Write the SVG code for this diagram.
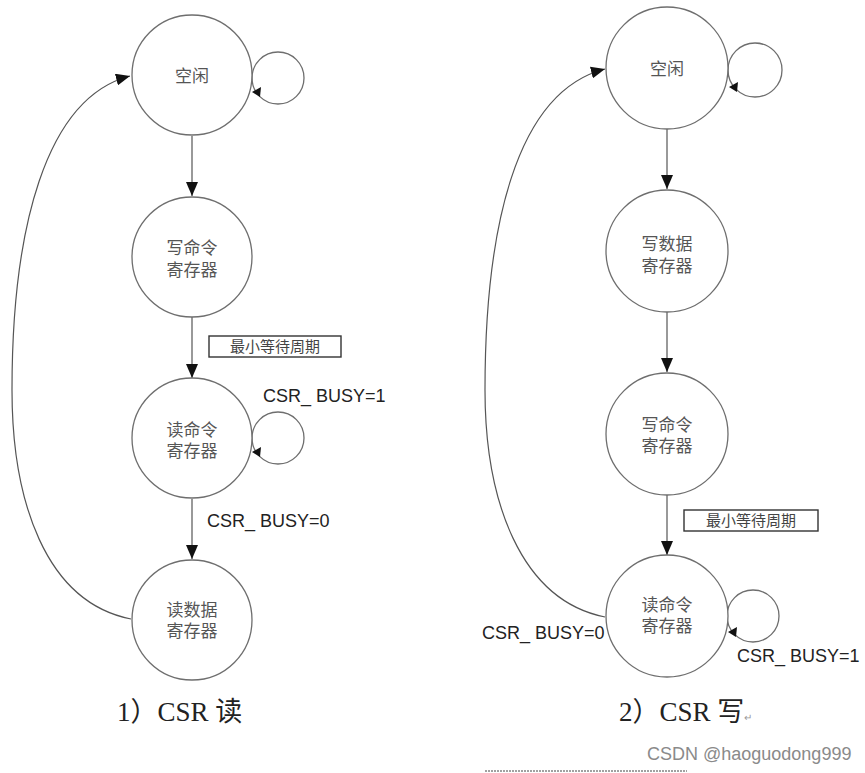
<svg xmlns="http://www.w3.org/2000/svg" width="865" height="773" viewBox="0 0 865 773">
<defs>
<style>
.node{fill:#fff;stroke:#6e6e6e;stroke-width:1.3}
.loop{fill:none;stroke:#6e6e6e;stroke-width:1.3}
.edge{fill:none;stroke:#555;stroke-width:1.2}
.nt{font-family:"Liberation Serif","Noto Sans CJK SC",serif;font-size:17px;fill:#555;text-anchor:middle}
.lbl{font-family:"Liberation Sans","Noto Sans CJK SC",sans-serif;font-size:18px;fill:#222}
.box{fill:#fff;stroke:#333;stroke-width:1.4}
.boxt{font-family:"Liberation Serif","Noto Sans CJK SC",serif;font-size:15px;fill:#444;text-anchor:middle}
.title{font-family:"Liberation Serif","Noto Sans CJK SC",serif;font-size:27px;fill:#222}
.ah{fill:#111}
</style>
<marker id="arr" viewBox="0 0 14 12" refX="14" refY="6" markerWidth="14" markerHeight="12" markerUnits="userSpaceOnUse" orient="auto">
<path d="M0,0 L14,6 L0,12 Z" fill="#111"/>
</marker>
</defs>
<rect width="865" height="773" fill="#fff"/>

<g id="connectors">
<path class="edge" d="M192,136 L192,196" marker-end="url(#arr)"/>
<path class="edge" d="M192,317 L192,378" marker-end="url(#arr)"/>
<path class="edge" d="M192,499 L192,559" marker-end="url(#arr)"/>
<path class="edge" d="M131,619 C45,602 12,500 12,390 C12,230 45,98 130,76" marker-end="url(#arr)"/>
<circle class="loop" cx="278" cy="78" r="26"/>
<polygon class="ah" points="252,92 261,87 260,97"/>
<circle class="loop" cx="278" cy="438" r="26"/>
<polygon class="ah" points="252,452 261,447 260,457"/>

<path class="edge" d="M667,129 L667,189" marker-end="url(#arr)"/>
<path class="edge" d="M667,312 L667,372" marker-end="url(#arr)"/>
<path class="edge" d="M667,495 L667,555" marker-end="url(#arr)"/>
<path class="edge" d="M605,617 C520,600 485,500 485,390 C485,230 515,92 605,69" marker-end="url(#arr)"/>
<circle class="loop" cx="755" cy="70" r="27"/>
<polygon class="ah" points="729,87 738,82 737,92"/>
<circle class="loop" cx="753" cy="616" r="26"/>
<polygon class="ah" points="728,632 737,627 736,637"/>
</g>

<g id="n1-idle">
<circle class="node" cx="192" cy="75" r="60"/>
<text class="nt" x="192" y="82">空闲</text>
</g>
<g id="n1-wcmd">
<circle class="node" cx="192" cy="257" r="60"/>
<text class="nt" x="192" y="254">写命令</text>
<text class="nt" x="192" y="276">寄存器</text>
</g>
<g id="n1-rcmd">
<circle class="node" cx="192" cy="438" r="60"/>
<text class="nt" x="192" y="436">读命令</text>
<text class="nt" x="192" y="457">寄存器</text>
</g>
<g id="n1-rdata">
<circle class="node" cx="192" cy="620" r="60"/>
<text class="nt" x="192" y="616">读数据</text>
<text class="nt" x="192" y="637">寄存器</text>
</g>

<g id="lbl1-wait">
<rect class="box" x="209" y="336" width="132" height="21"/>
<text class="boxt" x="275" y="352">最小等待周期</text>
</g>
<text class="lbl" x="263" y="402">CSR_ BUSY=1</text>
<text class="lbl" x="207" y="527">CSR_ BUSY=0</text>
<text class="title" x="117" y="721">1）CSR 读</text>

<g id="n2-idle">
<circle class="node" cx="667" cy="68" r="61"/>
<text class="nt" x="667" y="75">空闲</text>
</g>
<g id="n2-wdata">
<circle class="node" cx="667" cy="251" r="61"/>
<text class="nt" x="667" y="250">写数据</text>
<text class="nt" x="667" y="272">寄存器</text>
</g>
<g id="n2-wcmd">
<circle class="node" cx="667" cy="434" r="61"/>
<text class="nt" x="667" y="431">写命令</text>
<text class="nt" x="667" y="452">寄存器</text>
</g>
<g id="n2-rcmd">
<circle class="node" cx="667" cy="616" r="61"/>
<text class="nt" x="667" y="611">读命令</text>
<text class="nt" x="667" y="632">寄存器</text>
</g>

<g id="lbl2-wait">
<rect class="box" x="684" y="510" width="134" height="21"/>
<text class="boxt" x="751" y="526">最小等待周期</text>
</g>
<text class="lbl" x="737" y="662">CSR_ BUSY=1</text>
<text class="lbl" x="482" y="639">CSR_ BUSY=0</text>
<text class="title" x="619" y="721">2）CSR 写<tspan font-size="10" fill="#999">↵</tspan></text>

<line x1="485" y1="771" x2="687" y2="771" stroke="#444" stroke-width="1" stroke-dasharray="2,1"/>
<text x="647" y="760" font-family="Liberation Sans, sans-serif" font-size="18" fill="#8a8a8a">CSDN @haoguodong999</text>
</svg>
